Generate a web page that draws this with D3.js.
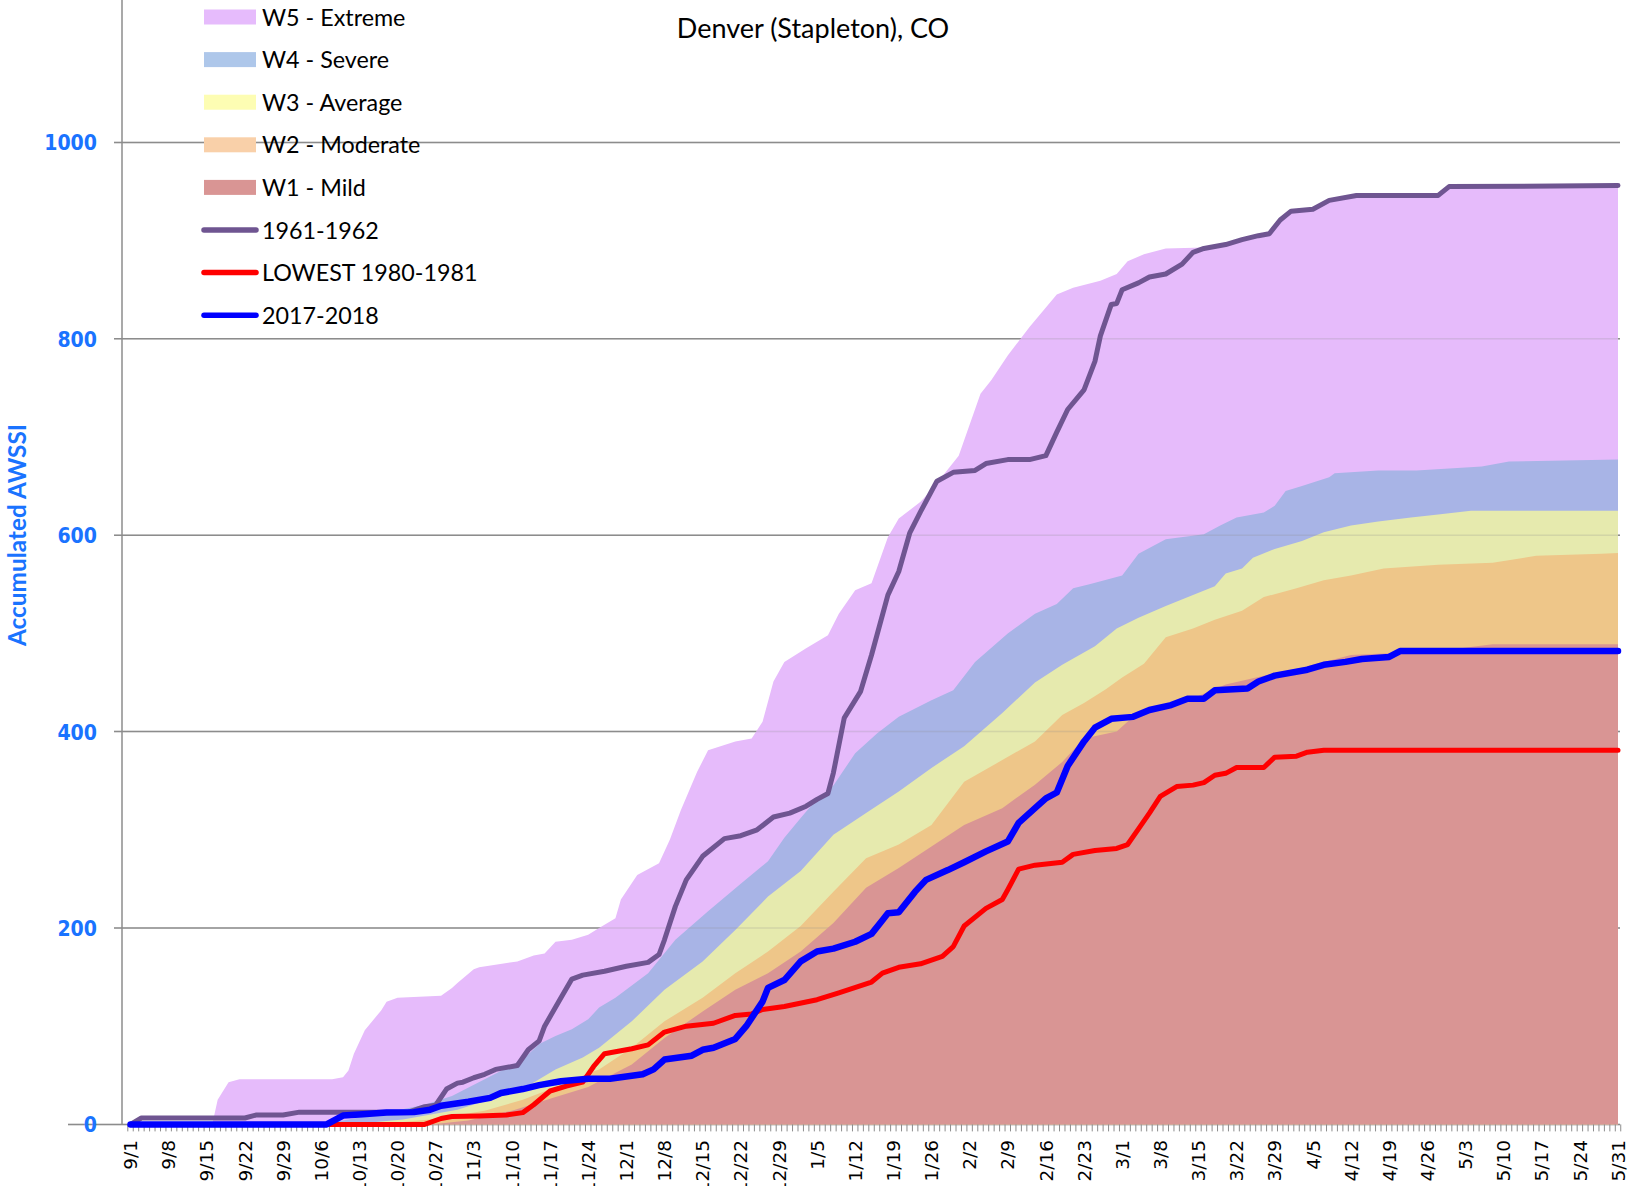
<!DOCTYPE html>
<html>
<head>
<meta charset="utf-8">
<script src="https://cdn.jsdelivr.net/npm/d3@7"></script>
<style>
  body { margin: 0; background: #fff; }
  svg { display: block; }
</style>
</head>
<body>
<div id="chart"></div>
<script>
// season calendar, 9/1 .. 5/31 (the sheet keeps a 2/29 slot)
var months = [9, 10, 11, 12, 1, 2, 3, 4, 5];
var monthDays = [30, 31, 30, 31, 31, 29, 31, 30, 31];
var dates = [];
months.forEach(function (m, k) {
    for (var d = 1; d <= monthDays[k]; d++) dates.push(m + "/" + d);
});
var tickEvery = 7;
var yTicks = [0, 200, 400, 600, 800, 1000];

// climatological category tops (accumulated AWSSI)
var w5 = [["9/1",0],["9/16",0],["9/17",25],["9/19",43],["9/21",46],["10/8",46],["10/10",48],["10/11",55],
    ["10/12",72],["10/14",96],["10/17",116],["10/18",125],["10/20",129],["10/24",130],["10/28",131],["10/30",139],
    ["10/31",144],["11/3",158],["11/4",160],["11/11",166],["11/14",172],["11/16",174],["11/18",186],["11/21",188],
    ["11/24",193],["11/26",200],["11/29",210],["11/30",229],["12/3",254],["12/7",266],["12/9",290],["12/11",320],
    ["12/14",359],["12/16",381],["12/21",390],["12/24",393],["12/26",410],["12/28",451],["12/30",471],["1/3",485],
    ["1/7",498],["1/9",520],["1/12",544],["1/15",551],["1/18",598],["1/20",617],["1/24",634],["1/26",646],
    ["1/31",681],["2/4",744],["2/6",758],["2/9",783],["2/13",812],["2/16",832],["2/18",845],["2/21",852],
    ["2/26",859],["2/29",866],["3/2",879],["3/5",886],["3/9",892],["3/16",893],["3/20",896],["3/23",901],
    ["3/26",905],["3/28",907],["3/30",921],["4/1",930],["4/5",932],["4/8",941],["4/13",946],["4/28",946],
    ["4/30",955],["5/31",955]];
var w4 = [["9/1",0],["10/6",0],["10/11",5],["10/18",12],["10/25",20],["10/30",29],["11/5",46],["11/12",66],
    ["11/15",82],["11/18",90],["11/21",97],["11/24",107],["11/26",119],["11/29",129],["12/5",154],["12/10",188],
    ["12/16",217],["12/22",245],["12/27",268],["12/30",292],["1/2",312],["1/4",325],["1/8",345],["1/12",378],
    ["1/16",398],["1/20",415],["1/26",432],["1/30",442],["2/3",471],["2/9",500],["2/14",520],["2/18",530],
    ["2/21",546],["2/24",550],["3/1",559],["3/4",581],["3/9",596],["3/16",601],["3/19",610],["3/22",618],
    ["3/27",623],["3/29",630],["3/31",645],["4/3",650],["4/8",659],["4/9",663],["4/17",666],["4/24",666],
    ["4/27",667],["5/6",670],["5/11",675],["5/31",677]];
var w3 = [["9/1",0],["10/11",0],["10/21",5],["10/31",15],["11/12",36],["11/18",56],["11/23",68],["11/26",78],
    ["12/2",105],["12/8",137],["12/15",166],["12/21",198],["12/27",232],["1/2",258],["1/8",295],["1/14",317],
    ["1/20",339],["1/26",363],["2/1",385],["2/8",419],["2/14",450],["2/19",468],["2/25",487],["2/29",505],
    ["3/4",516],["3/9",528],["3/14",539],["3/18",548],["3/20",561],["3/23",566],["3/25",577],["3/29",586],
    ["4/3",594],["4/7",603],["4/12",610],["4/17",614],["4/23",618],["4/28",621],["5/4",625],["5/31",625]];
var w2 = [["9/1",0],["10/16",0],["10/26",5],["11/5",14],["11/12",25],["11/19",40],["11/24",52],["11/26",56],
    ["12/2",78],["12/8",105],["12/15",129],["12/21",154],["12/27",176],["1/2",202],["1/8",237],["1/14",271],
    ["1/20",285],["1/26",305],["2/1",349],["2/8",371],["2/14",390],["2/19",417],["2/23",429],["2/27",443],
    ["3/1",455],["3/5",469],["3/9",496],["3/14",505],["3/18",514],["3/23",523],["3/27",537],["4/2",546],
    ["4/7",554],["4/12",559],["4/18",566],["4/28",570],["5/8",572],["5/16",579],["5/28",581],["5/31",582]];
var w1 = [["9/1",0],["10/26",0],["11/2",4],["11/10",14],["11/17",26],["11/24",38],["11/26",44],["12/2",61],
    ["12/8",88],["12/15",115],["12/21",137],["12/27",154],["1/2",176],["1/8",205],["1/14",241],["1/20",261],
    ["1/26",283],["2/1",305],["2/8",322],["2/14",346],["2/19",369],["2/23",393],["2/29",400],["3/3",415],
    ["3/7",422],["3/14",434],["3/20",448],["3/27",457],["4/3",465],["4/12",478],["4/24",481],["5/1",484],
    ["5/8",489],["5/31",489]];

// seasons
var s1961 = [["9/1",0],["9/3",6.5],["9/22",6.5],["9/24",9.5],["9/29",9.5],["10/2",12.5],["10/22",12.5],
    ["10/25",18],["10/27",19.5],["10/29",36],["10/31",42],["11/1",43],["11/3",47.5],["11/5",51],["11/7",56],
    ["11/11",60],["11/13",76],["11/15",85],["11/16",100],["11/19",129],["11/21",148],["11/23",152],["11/27",156],
    ["12/1",161],["12/5",165],["12/7",173],["12/8",188],["12/10",222],["12/12",249],["12/15",273],["12/19",291],
    ["12/22",294],["12/25",300],["12/28",313],["12/31",317],["1/3",324],["1/5",331],["1/7",337],["1/8",358],
    ["1/10",414],["1/13",441],["1/15",478],["1/18",539],["1/20",563],["1/22",602],["1/24",624],["1/27",655],
    ["1/30",664],["2/3",666],["2/5",673],["2/9",677],["2/13",677],["2/16",681],["2/18",705],["2/20",728],
    ["2/23",748],["2/25",777],["2/26",803],["2/28",835],["2/29",836],["3/1",850],["3/4",857],["3/6",863],
    ["3/9",866],["3/12",876],["3/14",888],["3/16",892],["3/20",896],["3/23",901],["3/26",905],["3/28",907],
    ["3/30",921],["4/1",930],["4/5",932],["4/8",941],["4/13",946],["4/28",946],["4/30",955],["5/31",956]];
var s1980 = [["9/1",0],["10/25",0],["10/28",6],["10/30",8],["11/4",8.5],["11/9",9.5],["11/12",12],["11/14",20],
    ["11/17",34],["11/20",39],["11/23",43],["11/25",59],["11/27",72],["11/30",75],["12/2",77],["12/5",81],
    ["12/8",94],["12/12",100],["12/17",103],["12/21",111],["12/24",112.5],["12/26",117],["12/30",120],
    ["1/5",127],["1/9",134],["1/15",145],["1/17",154],["1/20",160],["1/24",163.5],["1/28",171],["1/30",181],
    ["2/1",202],["2/5",220],["2/8",229],["2/9",239],["2/11",260],["2/14",264],["2/19",267],["2/21",275],
    ["2/25",279],["2/29",281],["3/2",285],["3/4",301],["3/6",317],["3/8",334],["3/11",344],["3/14",345.5],
    ["3/16",348],["3/18",355.5],["3/20",357.5],["3/22",363.5],["3/27",363.5],["3/29",374],["4/2",375],
    ["4/4",379],["4/7",381],["5/31",381]];
var s2017 = [["9/1",0],["10/7",0],["10/10",9],["10/13",10],["10/18",12],["10/23",12.5],["10/26",15],
    ["10/28",19],["11/2",23],["11/6",27],["11/8",32],["11/12",36],["11/15",40],["11/19",44],["11/24",46.5],
    ["11/28",46.5],["12/4",51],["12/6",56],["12/8",66],["12/13",70],["12/15",76],["12/17",78],["12/21",87],
    ["12/23",100],["12/26",125],["12/27",139],["12/30",147],["1/2",166],["1/5",176],["1/8",179],["1/12",186],
    ["1/15",194],["1/17",208],["1/18",215],["1/20",216],["1/23",237],["1/25",249],["1/29",259],["2/1",267],
    ["2/5",278],["2/9",288],["2/11",307],["2/14",322],["2/16",332],["2/18",338],["2/20",365],["2/23",390],
    ["2/25",404],["2/28",413],["3/3",415],["3/6",422],["3/10",427],["3/13",433.5],["3/16",433.5],["3/18",442],
    ["3/24",444],["3/26",451],["3/29",457],["4/4",463],["4/7",468],["4/11",471],["4/14",474],["4/19",476],
    ["4/21",482],["5/31",482]];

var width = 1637, height = 1186;
var blue = "#1a73ff";

var svg = d3.select("#chart").append("svg")
    .attr("width", width)
    .attr("height", height);

var x = d3.scaleLinear().domain([0, dates.length - 1]).range([130.5, 1618]);
var y = d3.scaleLinear().domain([0, 1000]).range([1124.4, 142.4]);
var plotLeft = 122, plotRight = 1620;

function xi(d) { return x(dates.indexOf(d[0])); }
var area = d3.area().x(xi).y0(y(0)).y1(function (d) { return y(d[1]); });
var line = d3.line().x(xi).y(function (d) { return y(d[1]); });

// gridlines
function grid(g, op) {
    g.selectAll("line").data(yTicks).enter().append("line")
        .attr("x1", function (d) { return d === 0 ? 68 : 114; })
        .attr("x2", plotRight)
        .attr("y1", function (d) { return y(d); })
        .attr("y2", function (d) { return y(d); })
        .attr("stroke", "#8c8c8c")
        .attr("stroke-opacity", op)
        .attr("stroke-width", 1.5);
}
svg.append("g").call(grid, 1);

// category areas, drawn from zero, widest first
var bands = [
    { data: w5, fill: "#e6bbfb" },
    { data: w4, fill: "#a8b4e6" },
    { data: w3, fill: "#e6eaae" },
    { data: w2, fill: "#eec689" }
];
bands.forEach(function (b) {
    svg.append("path").datum(b.data).attr("d", area).attr("fill", b.fill);
});
svg.append("g").call(grid, 0.22);
svg.append("path").datum(w1).attr("d", area).attr("fill", "#d99594");

// y axis
svg.append("line")
    .attr("x1", plotLeft).attr("x2", plotLeft)
    .attr("y1", 0).attr("y2", y(0))
    .attr("stroke", "#8c8c8c").attr("stroke-width", 1.5);
svg.append("g").selectAll("text").data(yTicks).enter().append("text")
    .attr("x", 97)
    .attr("y", function (d) { return y(d); })
    .attr("dy", "0.36em")
    .attr("text-anchor", "end")
    .attr("font-family", "DejaVu Sans")
    .attr("font-weight", "bold")
    .attr("font-size", 22)
    .attr("fill", blue)
    .attr("textLength", function (d) { return String(d).length * 13.2; })
    .attr("lengthAdjust", "spacingAndGlyphs")
    .text(function (d) { return d; });

svg.append("text")
    .attr("transform", "translate(26,535) rotate(-90)")
    .attr("text-anchor", "middle")
    .attr("font-family", "Lato")
    .attr("font-weight", "bold")
    .attr("font-size", 24)
    .attr("fill", blue)
    .attr("textLength", 222)
    .attr("lengthAdjust", "spacingAndGlyphs")
    .text("Accumulated AWSSI");

// x axis: minor tick per day, label every 7 days
var xg = svg.append("g");
xg.selectAll("line").data(d3.range(dates.length + 1)).enter().append("line")
    .attr("x1", function (i) { return x(i) - 2.7; })
    .attr("x2", function (i) { return x(i) - 2.7; })
    .attr("y1", y(0)).attr("y2", y(0) + 7)
    .attr("stroke", "#8c8c8c").attr("stroke-width", 1);
xg.selectAll("text").data(dates.filter(function (d, i) { return i % tickEvery === 0; }))
    .enter().append("text")
    .attr("transform", function (d) {
        return "translate(" + x(dates.indexOf(d)) + ",1140) rotate(-90)";
    })
    .attr("dy", "0.36em")
    .attr("text-anchor", "end")
    .attr("font-family", "DejaVu Sans")
    .attr("font-size", 18.5)
    .attr("fill", "#000")
    .text(function (d) { return d; });

// season lines
var seasons = [
    { data: s1961, color: "#6f5591", w: 5 },
    { data: s1980, color: "#ff0000", w: 5 },
    { data: s2017, color: "#0000ff", w: 6.5 }
];
seasons.forEach(function (s) {
    svg.append("path").datum(s.data).attr("d", line)
        .attr("fill", "none")
        .attr("stroke", s.color)
        .attr("stroke-width", s.w)
        .attr("stroke-linejoin", "round")
        .attr("stroke-linecap", "round");
});

// title
svg.append("text")
    .attr("x", 813).attr("y", 38)
    .attr("text-anchor", "middle")
    .attr("font-family", "Lato")
    .attr("font-size", 27)
    .attr("fill", "#000")
    .text("Denver (Stapleton), CO");

// legend
var legendItems = [
    { name: "W5 - Extreme", type: "rect", color: "#e6bbfc" },
    { name: "W4 - Severe", type: "rect", color: "#aec7ea" },
    { name: "W3 - Average", type: "rect", color: "#fdfdb3" },
    { name: "W2 - Moderate", type: "rect", color: "#f9d0a9" },
    { name: "W1 - Mild", type: "rect", color: "#d99594" },
    { name: "1961-1962", type: "line", color: "#6f5591" },
    { name: "LOWEST 1980-1981", type: "line", color: "#ff0000" },
    { name: "2017-2018", type: "line", color: "#0000ff" }
];
var lg = svg.append("g").selectAll("g").data(legendItems).enter().append("g")
    .attr("transform", function (d, i) { return "translate(0," + (17 + i * 42.6) + ")"; });
lg.filter(function (d) { return d.type === "rect"; }).append("rect")
    .attr("x", 204).attr("y", -7.5).attr("width", 52).attr("height", 15)
    .attr("fill", function (d) { return d.color; });
lg.filter(function (d) { return d.type === "line"; }).append("line")
    .attr("x1", 204).attr("x2", 256).attr("y1", 0).attr("y2", 0)
    .attr("stroke", function (d) { return d.color; })
    .attr("stroke-width", 5.5)
    .attr("stroke-linecap", "round");
lg.append("text")
    .attr("x", 262).attr("y", 8.5)
    .attr("font-family", "Lato")
    .attr("font-size", 23.3)
    .attr("fill", "#000")
    .text(function (d) { return d.name; });
</script>
</body>
</html>
